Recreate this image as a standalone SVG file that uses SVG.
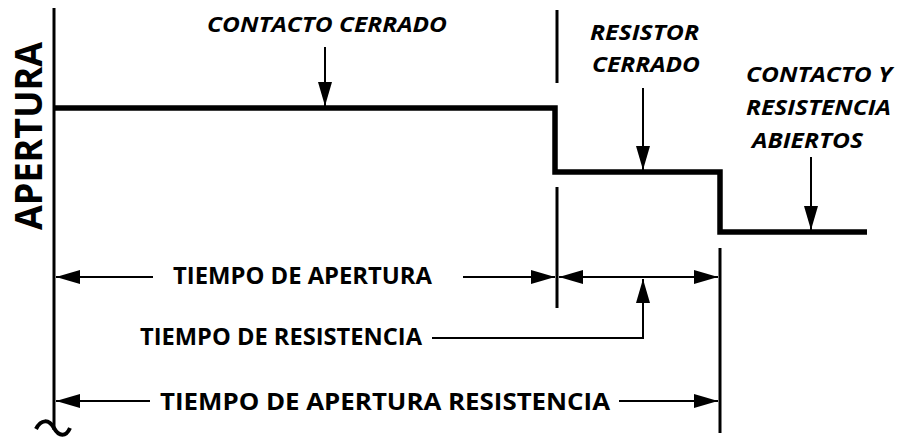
<svg xmlns="http://www.w3.org/2000/svg" width="899" height="442" viewBox="0 0 899 442">
<style>
.t{font-family:"Open Sans","Liberation Sans",Arial,sans-serif;font-weight:bold;fill:#000}
.i{font-style:italic;font-size:21px}
.m{font-size:24px}
.ln{stroke:#000;fill:none}
</style>
<defs>
<marker id="ah" markerUnits="userSpaceOnUse" markerWidth="24" markerHeight="14" refX="24" refY="7" orient="auto-start-reverse" viewBox="0 0 24 14">
<path d="M0,0 L24,7 L0,14 z" fill="#000"/>
</marker>
</defs>
<rect width="899" height="442" fill="#fff"/>
<g id="axis">
<line class="ln" x1="54" y1="8" x2="54" y2="430" stroke-width="3"/>
<path class="ln" d="M36,429 C41,419 49,419 54,428 C59,437 66,437 70,428" stroke-width="4"/>
<text class="t" font-size="37" transform="translate(42,136) rotate(-90)" text-anchor="middle" textLength="188" lengthAdjust="spacingAndGlyphs">APERTURA</text>
</g>
<g id="curve">
<polyline class="ln" points="55,108 555,108 555,172 720,172 720,232 867,232" stroke-width="5.5"/>
</g>
<g id="markers">
<line class="ln" x1="557" y1="10" x2="557" y2="83" stroke-width="3"/>
<line class="ln" x1="557" y1="187" x2="557" y2="308" stroke-width="3"/>
<line class="ln" x1="720" y1="248" x2="720" y2="433" stroke-width="3"/>
</g>
<g id="label-contacto-cerrado">
<text class="t i" x="207" y="32" textLength="240" lengthAdjust="spacingAndGlyphs">CONTACTO CERRADO</text>
</g>
<g id="label-resistor-cerrado">
<text class="t i" x="590" y="40" textLength="109" lengthAdjust="spacingAndGlyphs">RESISTOR</text>
<text class="t i" x="592" y="72" textLength="108" lengthAdjust="spacingAndGlyphs">CERRADO</text>
</g>
<g id="label-abiertos">
<text class="t i" x="746" y="82" textLength="146" lengthAdjust="spacingAndGlyphs">CONTACTO Y</text>
<text class="t i" x="746" y="115" textLength="145" lengthAdjust="spacingAndGlyphs">RESISTENCIA</text>
<text class="t i" x="752" y="148" textLength="111" lengthAdjust="spacingAndGlyphs">ABIERTOS</text>
</g>
<g id="label-tiempo-apertura">
<text class="t m" x="173" y="284" textLength="259" lengthAdjust="spacingAndGlyphs">TIEMPO DE APERTURA</text>
</g>
<g id="label-tiempo-resistencia">
<text class="t m" x="140" y="345" textLength="282" lengthAdjust="spacingAndGlyphs">TIEMPO DE RESISTENCIA</text>
</g>
<g id="label-tiempo-apertura-resistencia">
<text class="t m" x="160" y="410" textLength="450" lengthAdjust="spacingAndGlyphs">TIEMPO DE APERTURA RESISTENCIA</text>
</g>
<g id="connectors" stroke="#000" stroke-width="2" fill="none">
<line x1="325" y1="47" x2="325" y2="106" marker-end="url(#ah)"/>
<line x1="643" y1="88" x2="643" y2="170" marker-end="url(#ah)"/>
<line x1="811" y1="157" x2="811" y2="230" marker-end="url(#ah)"/>
<line x1="153" y1="277" x2="56" y2="277" marker-end="url(#ah)"/>
<line x1="463" y1="277" x2="555" y2="277" marker-end="url(#ah)"/>
<line x1="559" y1="277" x2="718" y2="277" marker-start="url(#ah)" marker-end="url(#ah)"/>
<polyline points="432,338 643,338 643,279" marker-end="url(#ah)"/>
<line x1="150" y1="401" x2="56" y2="401" marker-end="url(#ah)"/>
<line x1="619" y1="401" x2="718" y2="401" marker-end="url(#ah)"/>
</g>
</svg>
